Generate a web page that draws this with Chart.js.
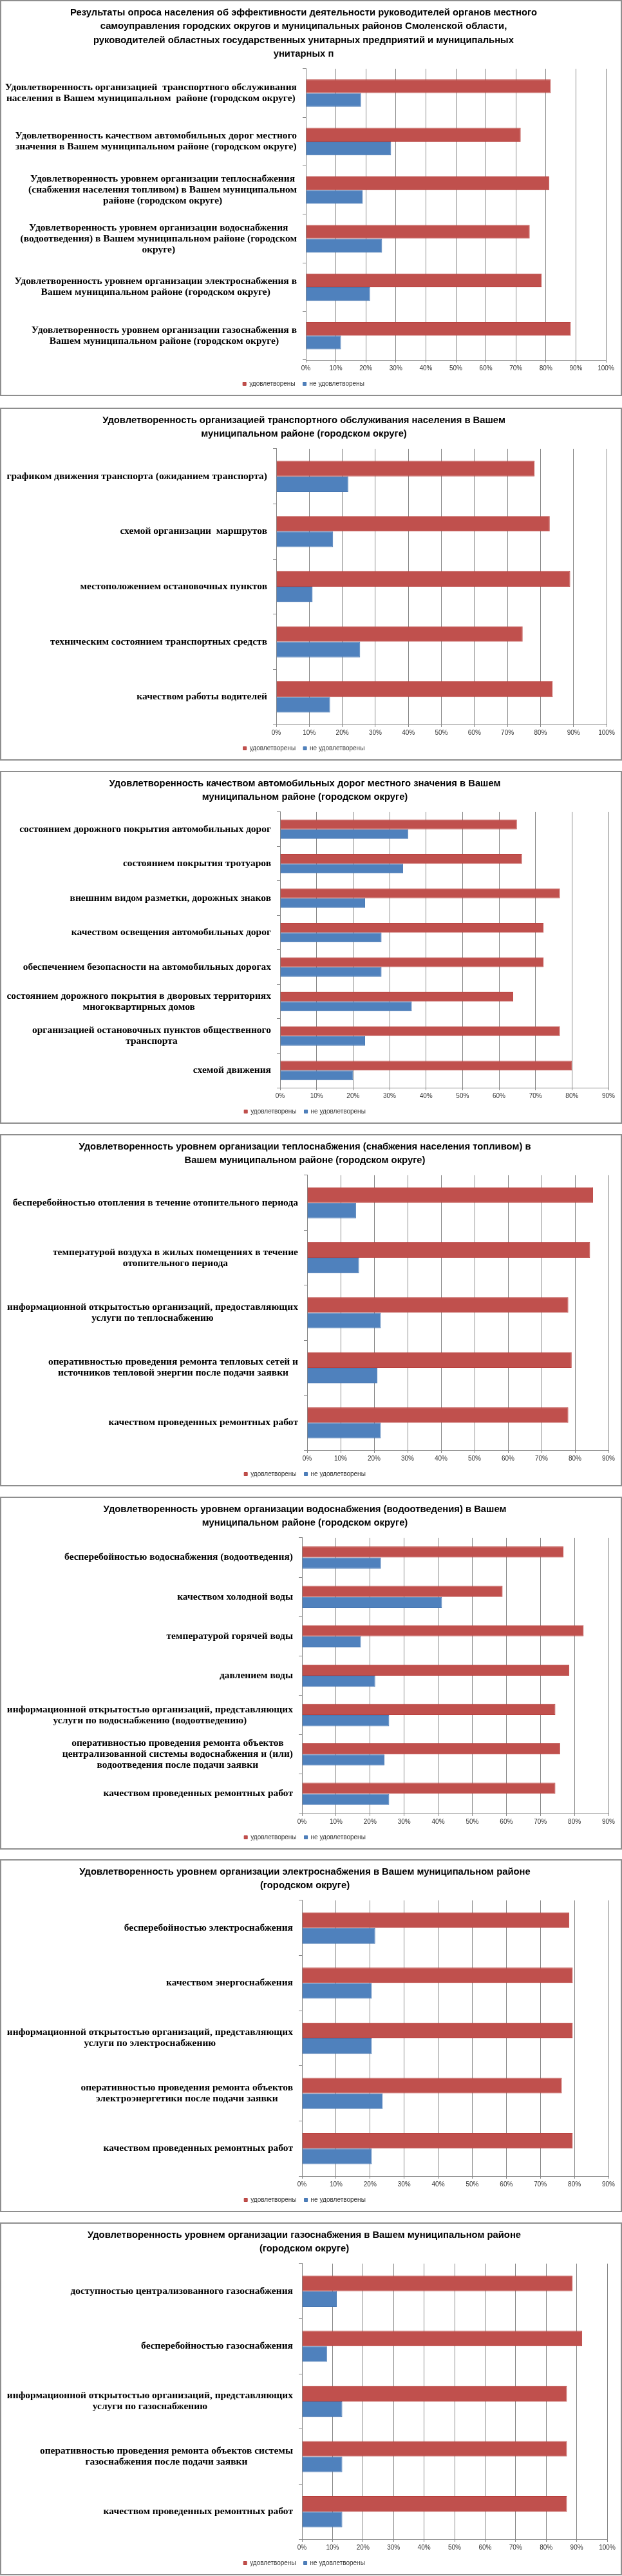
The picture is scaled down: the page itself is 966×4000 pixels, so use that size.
<!DOCTYPE html>
<html>
<head>
<meta charset="utf-8">
<script src="https://cdn.jsdelivr.net/npm/chart.js@4/dist/chart.umd.min.js"></script>
<style>
  html, body { margin: 0; padding: 0; background: #fff; }
  .box { position: absolute; left: 0; width: 966px; box-sizing: border-box; border: 2px solid #8e8e8e; background: #fff; }
</style>
</head>
<body>
<div id="page"></div>
<script>
// series names
const seriesNames = ["удовлетворены", "не удовлетворены"];

// 1. summary
const summaryTitle = [
  "Результаты опроса населения об эффективности деятельности руководителей органов местного",
  "самоуправления городских округов и муниципальных районов Смоленской области,",
  "руководителей областных государственных унитарных предприятий и муниципальных",
  "унитарных п"
];
const summaryCategories = [
  ["Удовлетворенность организацией  транспортного обслуживания", "населения в Вашем муниципальном  районе (городском округе)"],
  ["Удовлетворенность качеством автомобильных дорог местного", "значения в Вашем муниципальном районе (городском округе)"],
  ["Удовлетворенность уровнем организации теплоснабжения", "(снабжения населения топливом) в Вашем муниципальном", "районе (городском округе)"],
  ["Удовлетворенность уровнем организации водоснабжения", "(водоотведения) в Вашем муниципальном районе (городском", "округе)"],
  ["Удовлетворенность уровнем организации электроснабжения в", "Вашем муниципальном районе (городском округе)"],
  ["Удовлетворенность уровнем организации газоснабжения в", "Вашем муниципальном районе (городском округе)"]
];
const summarySatisfied   = [81.6, 71.6, 81.1, 74.6, 78.6, 88.3];
const summaryUnsatisfied = [18.4, 28.4, 18.9, 25.4, 21.4, 11.7];

// 2. transport
const transportTitle = ["Удовлетворенность организацией транспортного обслуживания населения в Вашем", "муниципальном районе (городском округе)"];
const transportCategories = [
  "графиком движения транспорта (ожиданием транспорта)",
  "схемой организации  маршрутов",
  "местоположением остановочных пунктов",
  "техническим состоянием транспортных средств",
  "качеством работы водителей"
];
const transportSatisfied   = [78.2, 82.8, 89.0, 74.6, 83.7];
const transportUnsatisfied = [21.8, 17.2, 11.0, 25.4, 16.3];

// 3. roads
const roadsTitle = ["Удовлетворенность качеством автомобильных дорог местного значения в Вашем", "муниципальном районе (городском округе)"];
const roadsCategories = [
  "состоянием дорожного покрытия автомобильных дорог",
  "состоянием покрытия тротуаров",
  "внешним видом разметки, дорожных знаков",
  "качеством освещения автомобильных дорог",
  "обеспечением безопасности на автомобильных дорогах",
  ["состоянием дорожного покрытия в дворовых территориях", "многоквартирных домов"],
  ["организацией остановочных пунктов общественного", "транспорта"],
  "схемой движения"
];
const roadsSatisfied   = [64.9, 66.3, 76.7, 72.2, 72.2, 63.9, 76.7, 80.0];
const roadsUnsatisfied = [35.1, 33.7, 23.3, 27.8, 27.8, 36.1, 23.3, 20.0];

// 4. heating
const heatTitle = ["Удовлетворенность уровнем организации теплоснабжения (снабжения населения топливом) в", "Вашем муниципальном районе (городском округе)"];
const heatCategories = [
  "бесперебойностью отопления в течение отопительного периода",
  ["температурой воздуха в жилых помещениях в течение", "отопительного периода"],
  ["информационной открытостью организаций, предоставляющих", "услуги по теплоснабжению"],
  ["оперативностью проведения ремонта тепловых сетей и", "источников тепловой энергии после подачи заявки"],
  "качеством проведенных ремонтных работ"
];
const heatSatisfied   = [85.4, 84.5, 78.0, 79.0, 78.0];
const heatUnsatisfied = [14.6, 15.5, 22.0, 21.0, 22.0];

// 5. water
const waterTitle = ["Удовлетворенность уровнем организации водоснабжения (водоотведения) в Вашем", "муниципальном районе (городском округе)"];
const waterCategories = [
  "бесперебойностью водоснабжения (водоотведения)",
  "качеством холодной воды",
  "температурой горячей воды",
  "давлением воды",
  ["информационной открытостью организаций, представляющих", "услуги по водоснабжению (водоотведению)"],
  ["оперативностью проведения ремонта объектов", "централизованной системы водоснабжения и (или)", "водоотведения после подачи заявки"],
  "качеством проведенных ремонтных работ"
];
const waterSatisfied   = [76.8, 58.9, 82.7, 78.5, 74.4, 75.8, 74.4];
const waterUnsatisfied = [23.2, 41.1, 17.3, 21.5, 25.6, 24.2, 25.6];

// 6. electricity
const powerTitle = ["Удовлетворенность уровнем организации электроснабжения в Вашем муниципальном районе", "(городском округе)"];
const powerCategories = [
  "бесперебойностью электроснабжения",
  "качеством энергоснабжения",
  ["информационной открытостью организаций, представляющих", "услуги по электроснабжению"],
  ["оперативностью проведения ремонта объектов", "электроэнергетики после подачи заявки"],
  "качеством проведенных ремонтных работ"
];
const powerSatisfied   = [78.5, 79.5, 79.5, 76.3, 79.5];
const powerUnsatisfied = [21.5, 20.5, 20.5, 23.7, 20.5];

// 7. gas
const gasTitle = ["Удовлетворенность уровнем организации газоснабжения в Вашем муниципальном районе", "(городском округе)"];
const gasCategories = [
  "доступностью централизованного газоснабжения",
  "бесперебойностью газоснабжения",
  ["информационной открытостью организаций, представляющих", "услуги по газоснабжению"],
  ["оперативностью проведения ремонта объектов системы", "газоснабжения после подачи заявки"],
  "качеством проведенных ремонтных работ"
];
const gasSatisfied   = [88.6, 91.8, 86.8, 86.8, 86.8];
const gasUnsatisfied = [11.4, 8.2, 13.2, 13.2, 13.2];

// x axis ranges (percent)
const axisMax = [100, 100, 90, 90, 90, 90, 100];
const axisStep = 10;

const charts = [
  { title: summaryTitle,   labels: summaryCategories,   sat: summarySatisfied,   unsat: summaryUnsatisfied },
  { title: transportTitle, labels: transportCategories, sat: transportSatisfied, unsat: transportUnsatisfied },
  { title: roadsTitle,     labels: roadsCategories,     sat: roadsSatisfied,     unsat: roadsUnsatisfied },
  { title: heatTitle,      labels: heatCategories,      sat: heatSatisfied,      unsat: heatUnsatisfied },
  { title: waterTitle,     labels: waterCategories,     sat: waterSatisfied,     unsat: waterUnsatisfied },
  { title: powerTitle,     labels: powerCategories,     sat: powerSatisfied,     unsat: powerUnsatisfied },
  { title: gasTitle,       labels: gasCategories,       sat: gasSatisfied,       unsat: gasUnsatisfied }
];

// box placement on the page (top, height) and plot edges in box coords
const boxes = [
  { top: 0,    h: 615, left: 480, right: 943 },
  { top: 633,  h: 548, left: 434, right: 944 },
  { top: 1197, h: 548, left: 440, right: 947 },
  { top: 1761, h: 547, left: 482, right: 947 },
  { top: 2324, h: 548, left: 474, right: 947 },
  { top: 2887, h: 548, left: 474, right: 947 },
  { top: 3451, h: 548, left: 474, right: 945 }
];

const RED = "#C0504D", BLUE = "#4F81BD", GRID = "#868686";
const LABEL_FONT = 'bold 15.5px "Liberation Serif"';
const LABEL_LH = 17;

// category labels: block right-aligned to the axis, lines centred inside the block
const blockLabels = {
  id: "blockLabels",
  afterDraw(chart) {
    const ctx = chart.ctx, sc = chart.scales.y;
    ctx.save();
    ctx.font = LABEL_FONT;
    ctx.fillStyle = "#000";
    ctx.textAlign = "center";
    ctx.textBaseline = "middle";
    chart.data.labels.forEach((lab, i) => {
      const lines = Array.isArray(lab) ? lab : [lab];
      const w = Math.max(...lines.map(l => ctx.measureText(l).width));
      const cx = chart.chartArea.left - 14 - w / 2;
      const cy = sc.getPixelForTick(i);
      lines.forEach((l, k) => ctx.fillText(l, cx, cy + (k - (lines.length - 1) / 2) * LABEL_LH));
    });
    ctx.restore();
  }
};

const page = document.getElementById("page");
charts.forEach((c, n) => {
  const b = boxes[n];
  const div = document.createElement("div");
  div.className = "box";
  div.style.top = b.top + "px";
  div.style.height = b.h + "px";
  const cv = document.createElement("canvas");
  div.appendChild(cv);
  page.appendChild(div);

  new Chart(cv, {
    type: "bar",
    data: {
      labels: c.labels,
      datasets: [
        { label: seriesNames[0], data: c.sat, backgroundColor: RED, borderColor: "#B9403D", borderWidth: 1 },
        { label: seriesNames[1], data: c.unsat, backgroundColor: BLUE, borderColor: "#4576B2", borderWidth: 1 }
      ]
    },
    options: {
      indexAxis: "y",
      responsive: true,
      maintainAspectRatio: false,
      animation: false,
      devicePixelRatio: 1,
      datasets: { bar: { categoryPercentage: 0.565, barPercentage: 1.0 } },
      layout: { padding: { left: 0, right: 964 - (b.right - 2), top: 0, bottom: 2 } },
      plugins: {
        title: {
          display: true,
          text: c.title,
          color: "#000",
          font: { family: "Liberation Sans", size: 14.8, weight: "bold", lineHeight: 1.45 },
          padding: { top: 7, bottom: 12 }
        },
        legend: {
          position: "bottom",
          labels: {
            boxWidth: 5, boxHeight: 5, padding: 12, color: "#333",
            font: { family: "Liberation Sans", size: 10 }
          }
        },
        tooltip: { enabled: false }
      },
      scales: {
        x: {
          min: 0, max: axisMax[n],
          grid: { color: GRID, lineWidth: 1, tickLength: 4, drawTicks: true },
          border: { color: GRID },
          ticks: {
            stepSize: axisStep, padding: 3, color: "#333",
            font: { family: "Liberation Sans", size: 10 },
            callback: v => v + "%"
          },
          afterFit: s => { s.height = 20; }
        },
        y: {
          grid: { display: true, drawOnChartArea: false, drawTicks: true, tickLength: 5, color: GRID, offset: true },
          border: { color: GRID },
          ticks: { display: false },
          afterFit: s => { s.width = b.left - 2 - 5; }
        }
      }
    },
    plugins: [blockLabels]
  });
});
</script>
</body>
</html>
